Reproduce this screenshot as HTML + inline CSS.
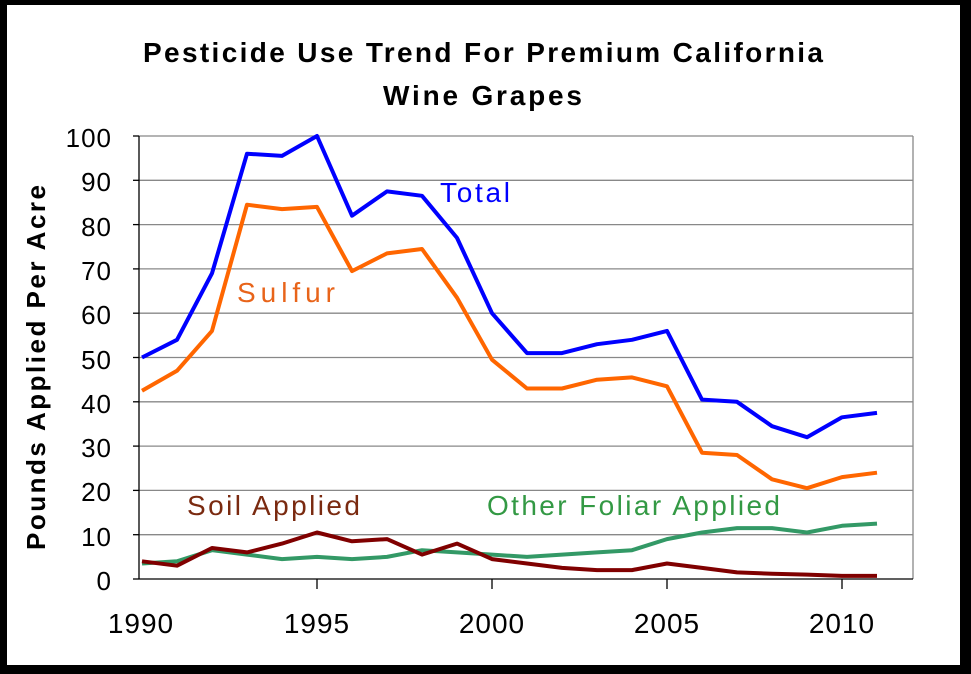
<!DOCTYPE html>
<html><head><style>
body{margin:0;background:#000;}
svg{display:block;font-family:"Liberation Sans",Arial,sans-serif;}
</style></head><body>
<svg width="971" height="674" xmlns="http://www.w3.org/2000/svg">
<rect x="0" y="0" width="971" height="674" fill="#000"/>
<rect x="7" y="5" width="953" height="660" fill="#fff"/>
<text x="143" y="62" font-size="28" font-weight="bold" textLength="680" lengthAdjust="spacing">Pesticide Use Trend For Premium California</text>
<text x="383" y="105" font-size="28" font-weight="bold" textLength="199" lengthAdjust="spacing">Wine Grapes</text>
<g stroke="#888" stroke-width="1.3">
<line x1="139" x2="913" y1="136" y2="136"/><line x1="139" x2="913" y1="180.3" y2="180.3"/>
<line x1="139" x2="913" y1="224.6" y2="224.6"/><line x1="139" x2="913" y1="268.9" y2="268.9"/>
<line x1="139" x2="913" y1="313.2" y2="313.2"/><line x1="139" x2="913" y1="357.5" y2="357.5"/>
<line x1="139" x2="913" y1="401.8" y2="401.8"/><line x1="139" x2="913" y1="446.1" y2="446.1"/>
<line x1="139" x2="913" y1="490.4" y2="490.4"/><line x1="139" x2="913" y1="534.7" y2="534.7"/>
<line x1="913" x2="913" y1="136" y2="579"/>
</g>
<g stroke="#000" stroke-width="1.3">
<line x1="139" x2="139" y1="136" y2="579"/><line x1="139" x2="913" y1="579" y2="579"/>
<line x1="133" x2="139" y1="136" y2="136"/><line x1="133" x2="139" y1="180.3" y2="180.3"/>
<line x1="133" x2="139" y1="224.6" y2="224.6"/><line x1="133" x2="139" y1="268.9" y2="268.9"/>
<line x1="133" x2="139" y1="313.2" y2="313.2"/><line x1="133" x2="139" y1="357.5" y2="357.5"/>
<line x1="133" x2="139" y1="401.8" y2="401.8"/><line x1="133" x2="139" y1="446.1" y2="446.1"/>
<line x1="133" x2="139" y1="490.4" y2="490.4"/><line x1="133" x2="139" y1="534.7" y2="534.7"/>
<line x1="133" x2="139" y1="579" y2="579"/>
<line x1="317" x2="317" y1="579" y2="589"/><line x1="492" x2="492" y1="579" y2="589"/>
<line x1="667" x2="667" y1="579" y2="589"/><line x1="842" x2="842" y1="579" y2="589"/>
</g>
<g font-size="26" text-anchor="end" letter-spacing="1">
<text x="112" y="147">100</text><text x="112" y="191">90</text><text x="112" y="236">80</text>
<text x="112" y="280">70</text><text x="112" y="324">60</text><text x="112" y="369">50</text>
<text x="112" y="413">40</text><text x="112" y="457">30</text><text x="112" y="501">20</text>
<text x="112" y="546">10</text><text x="112" y="590">0</text>
</g>
<g font-size="28" text-anchor="middle" letter-spacing="1">
<text x="141" y="633">1990</text><text x="317" y="633">1995</text><text x="492" y="633">2000</text>
<text x="667" y="633">2005</text><text x="842" y="633">2010</text>
</g>
<text transform="translate(45,550) rotate(-90)" font-size="26" font-weight="bold" textLength="365" lengthAdjust="spacing">Pounds Applied Per Acre</text>
<g fill="none" stroke-width="4" stroke-linejoin="round">
<polyline stroke="#339966" points="142,563.5 177,561.3 212,550.2 247,554.6 282,559.1 317,556.9 352,559.1 387,556.9 422,550.2 457,552.4 492,554.6 527,556.9 562,554.6 597,552.4 632,550.2 667,539.1 702,532.5 737,528.1 772,528.1 807,532.5 842,525.8 877,523.6"/>
<polyline stroke="#800000" points="142,561.3 177,565.7 212,548 247,552.4 282,543.6 317,532.5 352,541.3 387,539.1 422,554.6 457,543.6 492,559.1 527,563.5 562,567.9 597,570.1 632,570.1 667,563.5 702,567.9 737,572.4 772,573.7 807,574.6 842,575.9 877,575.9"/>
<polyline stroke="#ff6600" points="142,390.7 177,370.8 212,330.9 247,204.7 282,209.1 317,206.9 352,271.1 387,253.4 422,249 457,297.7 492,359.7 527,388.5 562,388.5 597,379.7 632,377.4 667,386.3 702,452.7 737,455 772,479.3 807,488.2 842,477.1 877,472.7"/>
<polyline stroke="#0000ff" points="142,357.5 177,339.8 212,273.3 247,153.7 282,155.9 317,136 352,215.7 387,191.4 422,195.8 457,237.9 492,313.2 527,353.1 562,353.1 597,344.2 632,339.8 667,330.9 702,399.6 737,401.8 772,426.2 807,437.2 842,417.3 877,412.9"/>
</g>
<text x="440" y="202" font-size="28" fill="#0000ff" textLength="70" lengthAdjust="spacing">Total</text>
<text x="237" y="302" font-size="28" fill="#e8641a" textLength="98" lengthAdjust="spacing">Sulfur</text>
<text x="187" y="515" font-size="28" fill="#7a2a10" textLength="173" lengthAdjust="spacing">Soil Applied</text>
<text x="487" y="515" font-size="28" fill="#339944" textLength="293" lengthAdjust="spacing">Other Foliar Applied</text>
</svg>
</body></html>
